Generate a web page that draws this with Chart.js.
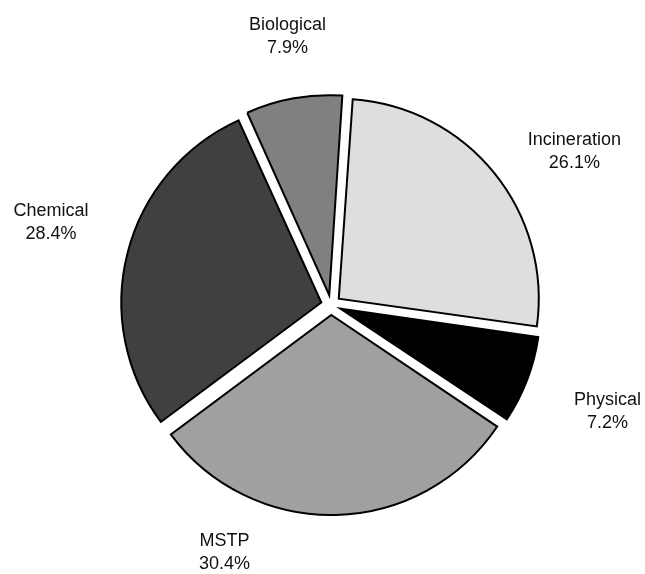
<!DOCTYPE html>
<html>
<head>
<meta charset="utf-8">
<script src="https://cdn.jsdelivr.net/npm/chart.js@4"></script>
<style>
  html, body { margin: 0; padding: 0; background: #fff; }
  canvas { display: block; }
</style>
</head>
<body>
<canvas id="wastePie" width="645" height="574"></canvas>
<script>
// slice order runs clockwise from the top
var categories = ["Incineration", "Physical", "MSTP", "Chemical", "Biological"];
var shares = [26.1, 7.2, 30.4, 28.4, 7.9];
var sliceColors = ["#dedede", "#000000", "#a0a0a0", "#404040", "#808080"];

// where each label sits: angle nudge (deg) from the slice middle, distance from centre
var labelNudge = [6.7, 0, 24.7, 2, 1];
var labelDist = [288, 296, 269, 292, 272];

// chart.js grows thin offset slices a little; undo that so every slice has the same radius
var evenRadius = {
     id: 'evenRadius',
     afterDatasetUpdate: function (chart) {
          chart.getDatasetMeta(0).data.forEach(function (arc) {
               var off = (arc.options.offset || 0) / 4;
               var fix = 1 - Math.sin(Math.min(Math.PI, arc.circumference));
               arc.outerRadius -= off * fix;
          });
     }
};

var outsideLabels = {
     id: 'outsideLabels',
     afterDraw: function (chart) {
          var ctx = chart.ctx;
          var arcs = chart.getDatasetMeta(0).data;
          ctx.save();
          ctx.font = '18px "Liberation Sans", Arial, sans-serif';
          ctx.fillStyle = '#111';
          ctx.textAlign = 'center';
          ctx.textBaseline = 'middle';
          arcs.forEach(function (arc, i) {
               var mid = (arc.startAngle + arc.endAngle) / 2 + labelNudge[i] * Math.PI / 180;
               var cx = arc.x + Math.cos(mid) * labelDist[i];
               var cy = arc.y + Math.sin(mid) * labelDist[i];
               ctx.fillText(categories[i], cx, cy - 11);
               ctx.fillText(shares[i].toFixed(1) + '%', cx, cy + 12);
          });
          ctx.restore();
     }
};

function createWastePie() {
     var ctx = document.getElementById('wastePie').getContext('2d');

     window.wastePie = new Chart(ctx, {
          type: 'pie',
          data: {
               labels: categories,
               datasets: [{
                    data: shares,
                    backgroundColor: sliceColors,
                    borderColor: '#000',
                    borderWidth: 2,
                    borderJoinStyle: 'miter',
                    offset: 40 // chart.js moves the slice by a quarter of this
               }]
          },
          options: {
               responsive: false,
               devicePixelRatio: 1,
               animation: false,
               rotation: 4,
               radius: 200,
               layout: { padding: { top: 36, left: 17, right: 0, bottom: 0 } },
               plugins: {
                    legend: { display: false },
                    tooltip: { enabled: false }
               }
          },
          plugins: [evenRadius, outsideLabels]
     });
}

createWastePie();
</script>
</body>
</html>
